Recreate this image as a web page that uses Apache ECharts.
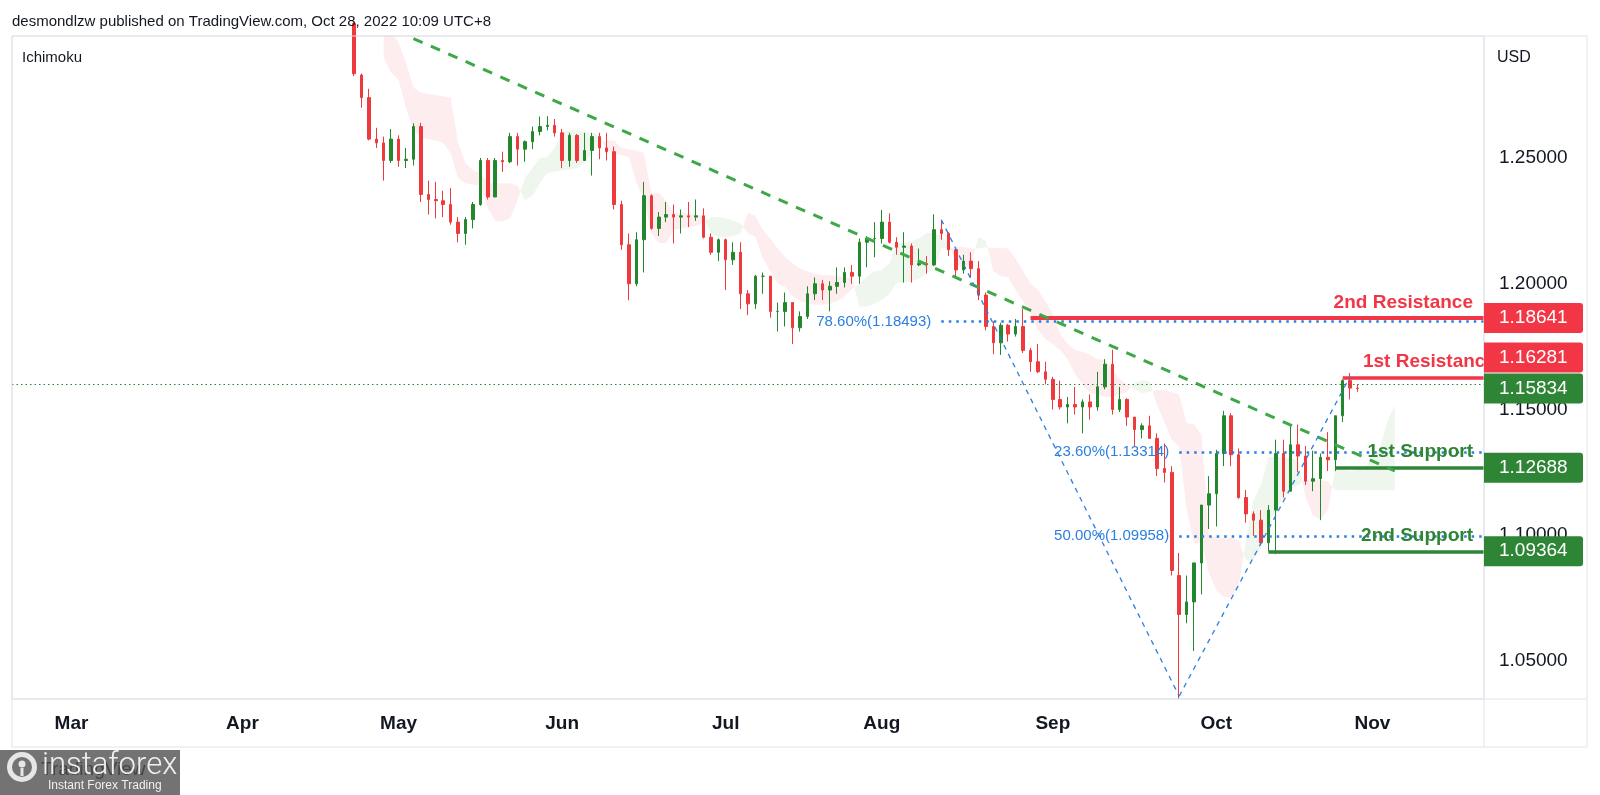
<!DOCTYPE html>
<html><head><meta charset="utf-8">
<script src="https://cdn.jsdelivr.net/npm/echarts@6/dist/echarts.min.js"></script>
<style>html,body{margin:0;padding:0;background:#fff}#chart{width:1600px;height:795px}</style>
</head><body><div id="chart"></div>
<script>
const FONT = '"Liberation Sans", Arial, Helvetica, sans-serif';
const axisStart = '2022-02-17';
const axisEnd = '2022-11-22';
const monthNames = ['Jan','Feb','Mar','Apr','May','Jun','Jul','Aug','Sep','Oct','Nov','Dec'];
const yTicks = [1.05, 1.10, 1.15, 1.20, 1.25];
const yMin = 1.0349, yMax = 1.2985;

// daily candles: [date, open, high, low, close]
const ohlcRows = [
['2022-04-21',1.3055,1.3090,1.3000,1.3035],
['2022-04-22',1.3035,1.3040,1.2825,1.2835],
['2022-04-25',1.2830,1.2835,1.2700,1.2740],
['2022-04-26',1.2740,1.2775,1.2570,1.2575],
['2022-04-27',1.2575,1.2620,1.2540,1.2560],
['2022-04-28',1.2560,1.2585,1.2410,1.2490],
['2022-04-29',1.2490,1.2615,1.2480,1.2575],
['2022-05-02',1.2575,1.2590,1.2465,1.2490],
['2022-05-03',1.2490,1.2540,1.2460,1.2495],
['2022-05-04',1.2495,1.2638,1.2470,1.2625],
['2022-05-05',1.2625,1.2640,1.2325,1.2355],
['2022-05-06',1.2355,1.2410,1.2275,1.2335],
['2022-05-09',1.2335,1.2405,1.2260,1.2330],
['2022-05-10',1.2330,1.2370,1.2265,1.2315],
['2022-05-11',1.2315,1.2380,1.2235,1.2245],
['2022-05-12',1.2245,1.2265,1.2165,1.2200],
['2022-05-13',1.2200,1.2265,1.2155,1.2255],
['2022-05-16',1.2255,1.2325,1.2220,1.2315],
['2022-05-17',1.2315,1.2500,1.2310,1.2490],
['2022-05-18',1.2490,1.2500,1.2335,1.2345],
['2022-05-19',1.2345,1.2500,1.2345,1.2490],
['2022-05-20',1.2490,1.2525,1.2445,1.2485],
['2022-05-23',1.2485,1.2600,1.2480,1.2585],
['2022-05-24',1.2585,1.2600,1.2470,1.2535],
['2022-05-25',1.2535,1.2570,1.2485,1.2565],
['2022-05-26',1.2565,1.2625,1.2535,1.2605],
['2022-05-27',1.2605,1.2665,1.2590,1.2625],
['2022-05-30',1.2625,1.2666,1.2610,1.2630],
['2022-05-31',1.2630,1.2655,1.2585,1.2600],
['2022-06-01',1.2600,1.2615,1.2460,1.2490],
['2022-06-02',1.2490,1.2600,1.2465,1.2590],
['2022-06-03',1.2590,1.2595,1.2480,1.2490],
['2022-06-06',1.2490,1.2600,1.2490,1.2530],
['2022-06-07',1.2530,1.2600,1.2430,1.2585],
['2022-06-08',1.2585,1.2600,1.2495,1.2540],
['2022-06-09',1.2540,1.2600,1.2490,1.2525],
['2022-06-10',1.2525,1.2545,1.2295,1.2315],
['2022-06-13',1.2315,1.2330,1.2135,1.2155],
['2022-06-14',1.2155,1.2200,1.1934,1.2000],
['2022-06-15',1.2000,1.2205,1.1990,1.2175],
['2022-06-16',1.2175,1.2405,1.2045,1.2350],
['2022-06-17',1.2350,1.2355,1.2215,1.2220],
['2022-06-20',1.2220,1.2285,1.2190,1.2265],
['2022-06-21',1.2265,1.2325,1.2245,1.2275],
['2022-06-22',1.2275,1.2315,1.2160,1.2265],
['2022-06-23',1.2265,1.2295,1.2200,1.2270],
['2022-06-24',1.2270,1.2325,1.2225,1.2265],
['2022-06-27',1.2265,1.2335,1.2250,1.2270],
['2022-06-28',1.2270,1.2300,1.2180,1.2185],
['2022-06-29',1.2185,1.2200,1.2115,1.2125],
['2022-06-30',1.2125,1.2180,1.2090,1.2175],
['2022-07-01',1.2175,1.2180,1.1975,1.2095],
['2022-07-04',1.2095,1.2165,1.2075,1.2125],
['2022-07-05',1.2125,1.2165,1.1900,1.1960],
['2022-07-06',1.1960,1.1975,1.1875,1.1920],
['2022-07-07',1.1920,1.2035,1.1900,1.2030],
['2022-07-08',1.2030,1.2045,1.1960,1.2030],
['2022-07-11',1.2030,1.2030,1.1865,1.1890],
['2022-07-12',1.1890,1.1925,1.1810,1.1890],
['2022-07-13',1.1890,1.1965,1.1830,1.1925],
['2022-07-14',1.1925,1.1925,1.1760,1.1825],
['2022-07-15',1.1825,1.1890,1.1810,1.1870],
['2022-07-18',1.1870,1.1990,1.1860,1.1960],
['2022-07-19',1.1960,1.2025,1.1935,1.2000],
['2022-07-20',1.2000,1.2015,1.1935,1.1975],
['2022-07-21',1.1975,1.2010,1.1890,1.1990],
['2022-07-22',1.1990,1.2065,1.1960,1.2005],
['2022-07-25',1.2005,1.2065,1.1985,1.2045],
['2022-07-26',1.2045,1.2075,1.2000,1.2030],
['2022-07-27',1.2030,1.2180,1.2000,1.2165],
['2022-07-28',1.2165,1.2190,1.2065,1.2180],
['2022-07-29',1.2180,1.2245,1.2105,1.2180],
['2022-08-01',1.2180,1.2293,1.2160,1.2245],
['2022-08-02',1.2245,1.2280,1.2160,1.2165],
['2022-08-03',1.2165,1.2185,1.2115,1.2145],
['2022-08-04',1.2145,1.2205,1.2005,1.2150],
['2022-08-05',1.2150,1.2160,1.2005,1.2075],
['2022-08-08',1.2075,1.2140,1.2070,1.2080],
['2022-08-09',1.2080,1.2110,1.2040,1.2075],
['2022-08-10',1.2075,1.2276,1.2070,1.2215],
['2022-08-11',1.2215,1.2250,1.2175,1.2200],
['2022-08-12',1.2200,1.2205,1.2110,1.2135],
['2022-08-15',1.2135,1.2140,1.2020,1.2055],
['2022-08-16',1.2055,1.2115,1.2040,1.2090],
['2022-08-17',1.2090,1.2125,1.2025,1.2060],
['2022-08-18',1.2060,1.2090,1.1935,1.1955],
['2022-08-19',1.1955,1.1965,1.1815,1.1830],
['2022-08-22',1.1830,1.1850,1.1720,1.1765],
['2022-08-23',1.1765,1.1845,1.1717,1.1835],
['2022-08-24',1.1835,1.1840,1.1770,1.1800],
['2022-08-25',1.1800,1.1860,1.1790,1.1830],
['2022-08-26',1.1830,1.1900,1.1725,1.1735],
['2022-08-29',1.1735,1.1745,1.1650,1.1690],
['2022-08-30',1.1690,1.1760,1.1645,1.1650],
['2022-08-31',1.1650,1.1690,1.1600,1.1620],
['2022-09-01',1.1620,1.1630,1.1500,1.1540],
['2022-09-02',1.1540,1.1615,1.1500,1.1510],
['2022-09-05',1.1510,1.1550,1.1445,1.1520],
['2022-09-06',1.1520,1.1590,1.1480,1.1510],
['2022-09-07',1.1510,1.1540,1.1405,1.1530],
['2022-09-08',1.1530,1.1560,1.1460,1.1510],
['2022-09-09',1.1510,1.1650,1.1495,1.1590],
['2022-09-12',1.1590,1.1700,1.1580,1.1680],
['2022-09-13',1.1680,1.1738,1.1480,1.1500],
['2022-09-14',1.1500,1.1590,1.1490,1.1540],
['2022-09-15',1.1540,1.1545,1.1435,1.1470],
['2022-09-16',1.1470,1.1470,1.1350,1.1420],
['2022-09-19',1.1420,1.1445,1.1385,1.1435],
['2022-09-20',1.1435,1.1475,1.1385,1.1385],
['2022-09-21',1.1385,1.1405,1.1235,1.1265],
['2022-09-22',1.1265,1.1365,1.1210,1.1250],
['2022-09-23',1.1250,1.1275,1.0840,1.0860],
['2022-09-26',1.0840,1.0930,1.0350,1.0685],
['2022-09-27',1.0685,1.0840,1.0650,1.0735],
['2022-09-28',1.0735,1.0890,1.0540,1.0890],
['2022-09-29',1.0890,1.1120,1.0765,1.1120],
['2022-09-30',1.1120,1.1235,1.1025,1.1165],
['2022-10-03',1.1165,1.1340,1.1035,1.1325],
['2022-10-04',1.1325,1.1495,1.1275,1.1475],
['2022-10-05',1.1475,1.1485,1.1275,1.1320],
['2022-10-06',1.1320,1.1345,1.1145,1.1150],
['2022-10-07',1.1150,1.1180,1.1050,1.1085],
['2022-10-10',1.1085,1.1095,1.0998,1.1060],
['2022-10-11',1.1060,1.1100,1.0960,1.0970],
['2022-10-12',1.0970,1.1120,1.0936,1.1100],
['2022-10-13',1.1100,1.1380,1.0925,1.1325],
['2022-10-14',1.1325,1.1380,1.1150,1.1175],
['2022-10-17',1.1175,1.1440,1.1175,1.1360],
['2022-10-18',1.1360,1.1440,1.1250,1.1315],
['2022-10-19',1.1315,1.1355,1.1200,1.1215],
['2022-10-20',1.1215,1.1336,1.1175,1.1225],
['2022-10-21',1.1225,1.1325,1.1060,1.1310],
['2022-10-24',1.1310,1.1410,1.1255,1.1300],
['2022-10-25',1.1300,1.1475,1.1255,1.1475],
['2022-10-26',1.1475,1.1620,1.1450,1.1615],
['2022-10-27',1.1615,1.1645,1.1540,1.1585],
['2022-10-28',1.1585,1.1600,1.1570,1.15834]
];

// Ichimoku cloud (leading spans), one value per trading day starting at cloudStart
const cloudStart = '2022-04-28';
const spanA = [
1.2900,1.2840,1.2810,1.2700,1.2610,1.2580,1.2575,1.2570,1.2560,1.2520,
1.2420,1.2400,1.2395,1.2390,1.2300,1.2250,1.2246,1.2260,1.2330,1.2420,
1.2460,1.2500,1.2505,1.2540,1.2600,1.2611,1.2611,1.2605,1.2600,1.2590,
1.2530,1.2520,1.2510,1.2505,1.2400,1.2333,1.2200,1.2162,1.2162,1.2214,
1.2220,1.2225,1.2230,1.2240,1.2265,1.2265,1.2260,1.2250,1.2240,1.2200,
1.2186,1.2100,1.2050,1.2000,1.1987,1.1950,1.1930,1.1920,1.1916,1.1916,
1.1920,1.1930,1.1950,1.1980,1.2000,1.2030,1.2050,1.2055,1.2080,1.2162,
1.2162,1.2170,1.2180,1.2202,1.2202,1.2190,1.2160,1.2080,1.2060,1.2080,
1.2186,1.2170,1.2050,1.2030,1.2027,1.1975,1.1930,1.1880,1.1816,1.1780,
1.1760,1.1737,1.1700,1.1640,1.1600,1.1566,1.1560,1.1550,1.1550,1.1560,
1.1570,1.1605,1.1617,1.1610,1.1520,1.1450,1.1380,1.1351,1.1100,1.0969,
1.0969,1.0850,1.0780,1.0754,1.0754,1.0800,1.0980,1.1140,1.1200,1.1311,
1.1311,1.1310,1.1305,1.1300,1.1150,1.1080,1.1061,1.1100,1.1260,1.1260,
1.1255,1.1260,1.1270,1.1300,1.1350,1.1450,1.1518
];
const spanB = [
1.3040,1.3000,1.2960,1.2880,1.2780,1.2760,1.2755,1.2750,1.2745,1.2740,
1.2560,1.2480,1.2450,1.2440,1.2400,1.2400,1.2400,1.2400,1.2390,1.2333,
1.2350,1.2400,1.2440,1.2445,1.2450,1.2452,1.2460,1.2480,1.2520,1.2560,
1.2570,1.2570,1.2540,1.2535,1.2530,1.2520,1.2361,1.2361,1.2330,1.2281,
1.2281,1.2280,1.2275,1.2270,1.2200,1.2186,1.2186,1.2190,1.2200,1.2281,
1.2270,1.2214,1.2180,1.2140,1.2106,1.2080,1.2060,1.2050,1.2040,1.2035,
1.2035,1.2030,1.2027,1.2020,1.1910,1.1910,1.1920,1.1935,1.1960,1.2003,
1.2003,1.2010,1.2020,1.2043,1.2060,1.2140,1.2140,1.2146,1.2146,1.2140,
1.2140,1.2145,1.2142,1.2142,1.2140,1.2100,1.2050,1.2000,1.1975,1.1930,
1.1880,1.1800,1.1760,1.1737,1.1730,1.1717,1.1700,1.1697,1.1660,1.1620,
1.1600,1.1580,1.1566,1.1570,1.1578,1.1578,1.1570,1.1560,1.1446,1.1440,
1.1400,1.1000,1.0993,1.0990,1.0990,1.0980,1.0900,1.0902,1.0950,1.1050,
1.1100,1.1150,1.1180,1.1200,1.1220,1.1220,1.1220,1.1215,1.1180,1.1180,
1.1180,1.1180,1.1180,1.1180,1.1180,1.1180,1.1180
];

const lastPrice = 1.15834;
const levelNames  = ['2nd Resistance', '1st Resistance', '1st Support', '2nd Support'];
const levelPrices = [1.18641, 1.16281, 1.12688, 1.09364];
const levelStarts = ['2022-08-29', '2022-10-26', '2022-10-25', '2022-10-12'];
const fibNames  = ['78.60%', '23.60%', '50.00%'];
const fibPrices = [1.18493, 1.13314, 1.09958];
const fibStarts = ['2022-08-11', '2022-09-26', '2022-09-26'];
const trendDates  = ['2022-05-04', '2022-11-04'];
const trendPrices = [1.2975, 1.1256];
const fibPathDates  = ['2022-08-11', '2022-09-26', '2022-10-27'];
const fibPathPrices = [1.22547, 1.03602, 1.16314];

// ---------- build ----------
function weekdays(a, b) {
  const out = [];
  const d = new Date(a + 'T00:00:00Z');
  const end = new Date(b + 'T00:00:00Z');
  while (d <= end) {
    const w = d.getUTCDay();
    if (w !== 0 && w !== 6) out.push(d.toISOString().slice(0, 10));
    d.setUTCDate(d.getUTCDate() + 1);
  }
  return out;
}
const categories = weekdays(axisStart, axisEnd);
const dayIndex = {};
categories.forEach((c, i) => { dayIndex[c] = i; });
const candleData = ohlcRows.map(([d, o, h, l, c]) => [dayIndex[d], o, c, l, h]);
const cloudOffset = dayIndex[cloudStart];

const UP = '#23882d', DOWN = '#ef3a3d';
const RED = '#f23645', GREEN = '#2e8535', BLUE = '#2a7fe0';
const levelColors = [RED, RED, GREEN, GREEN];
const levelWidths = [4, 3.5, 3.5, 3.5];
const levelDist = [[11, 6], [-12, 6], [11, 6], [11, 6]];

const markData = [];
levelPrices.forEach((p, i) => {
  markData.push([
    { coord: [levelStarts[i], p], lineStyle: { color: levelColors[i], width: levelWidths[i], type: 'solid' },
      label: { show: true, position: 'insideEndTop', formatter: levelNames[i], color: levelColors[i],
               fontSize: 19, fontWeight: 'bold', fontFamily: FONT, distance: levelDist[i] } },
    { coord: [axisEnd, p] }
  ]);
});
fibPrices.forEach((p, i) => {
  markData.push([
    { coord: [fibStarts[i], p], lineStyle: { color: BLUE, width: 2.5, type: [2.5, 5] },
      label: { show: true, position: 'start', formatter: fibNames[i] + '(' + p.toFixed(5) + ')', color: BLUE,
               fontSize: 15, fontFamily: FONT, distance: 10 } },
    { coord: [axisEnd, p] }
  ]);
});
markData.push([
  { coord: [trendDates[0], trendPrices[0]], lineStyle: { color: '#3da846', width: 3, type: [10, 9] }, label: { show: false } },
  { coord: [trendDates[1], trendPrices[1]] }
]);
for (let i = 0; i < fibPathDates.length - 1; i++) {
  markData.push([
    { coord: [fibPathDates[i], fibPathPrices[i]], lineStyle: { color: BLUE, width: 1.3, type: [5, 5] }, label: { show: false } },
    { coord: [fibPathDates[i + 1], fibPathPrices[i + 1]] }
  ]);
}
markData.push({ yAxis: lastPrice, lineStyle: { color: '#2e8535', width: 1, type: [1.5, 3] }, label: { show: false } });

function cloudRender(params, api) {
  const pts = spanA.map((a, k) => ({
    top: api.coord([cloudOffset + k, a]),
    bot: api.coord([cloudOffset + k, spanB[k]]),
    d: a - spanB[k]
  }));
  const children = [];
  let cur = null;
  const flush = () => {
    if (cur && cur.a.length > 1) {
      children.push({ type: 'polygon', shape: { points: cur.a.concat(cur.b.slice().reverse()) },
        style: { fill: cur.pos ? 'rgba(67,160,71,0.09)' : 'rgba(242,54,69,0.09)' } });
    }
  };
  pts.forEach((p, k) => {
    const pos = p.d >= 0;
    if (!cur) { cur = { pos, a: [p.top], b: [p.bot] }; return; }
    if (pos === cur.pos) { cur.a.push(p.top); cur.b.push(p.bot); return; }
    const q = pts[k - 1];
    const t = q.d / (q.d - p.d);
    const m = [q.top[0] + t * (p.top[0] - q.top[0]), q.top[1] + t * (p.top[1] - q.top[1])];
    cur.a.push(m); cur.b.push(m); flush();
    cur = { pos, a: [m, p.top], b: [m, p.bot] };
  });
  flush();
  return { type: 'group', children };
}

const chart = echarts.init(document.getElementById('chart'));
const option = {
  animation: false,
  backgroundColor: '#ffffff',
  textStyle: { fontFamily: FONT },
  grid: { left: 12, right: 116, top: 36, bottom: 96, containLabel: false, outerBoundsMode: 'none',
          show: true, borderColor: '#e0e3eb', borderWidth: 1, backgroundColor: 'transparent' },
  xAxis: {
    type: 'category', data: categories, boundaryGap: false,
    axisLine: { show: false }, axisTick: { show: false }, splitLine: { show: false },
    axisLabel: {
      interval: (i, v) => i > 0 && v.slice(5, 7) !== categories[i - 1].slice(5, 7),
      formatter: v => monthNames[+v.slice(5, 7) - 1],
      color: '#131722', fontSize: 19, fontWeight: 'bold', fontFamily: FONT, margin: 15
    }
  },
  yAxis: {
    type: 'value', position: 'right', min: yMin, max: yMax, splitNumber: 5, scale: true,
    axisLine: { show: false }, axisTick: { show: false }, splitLine: { show: false },
    axisLabel: {
      showMinLabel: false, showMaxLabel: false, margin: 15, color: '#131722', fontSize: 19, fontFamily: FONT,
      formatter: v => yTicks.some(t => Math.abs(t - v) < 1e-7) ? v.toFixed(5) : ''
    }
  },
  series: [
    { type: 'custom', name: 'cloud', z: 1, clip: true, silent: true,
      data: [[cloudOffset, spanA[0]]], encode: { x: 0, y: 1 }, renderItem: cloudRender },
    { type: 'candlestick', name: 'GBPUSD', z: 3, clip: true, barWidth: 3,
      data: candleData, encode: { x: 0, y: [1, 2, 3, 4] },
      itemStyle: { color: UP, color0: DOWN, borderColor: UP, borderColor0: DOWN, borderWidth: 1 },
      markLine: { silent: true, symbol: ['none', 'none'], animation: false, data: markData }
    }
  ]
};
chart.setOption(option);

// price tags on the right axis, placed through the y scale, stacked to avoid overlap
const tagPrices = [levelPrices[0], levelPrices[1], lastPrice, levelPrices[2], levelPrices[3]];
const tagColors = [RED, RED, GREEN, GREEN, GREEN];
const TAG_H = 30;
const tagYs = tagPrices.map(p => chart.convertToPixel({ yAxisIndex: 0 }, p));
const lastY = tagYs[2];
tagYs.forEach((y, i) => {
  if (i === 2) return;
  if (Math.abs(y - lastY) < TAG_H + 1) tagYs[i] = y < lastY ? lastY - TAG_H - 1 : lastY + TAG_H + 1;
});
const axisX = 1484;
const graphics = [];
tagPrices.forEach((p, i) => {
  graphics.push({ type: 'rect', z: 100, shape: { x: axisX, y: tagYs[i] - TAG_H / 2, width: 99, height: TAG_H, r: [0, 3, 3, 0] },
    style: { fill: tagColors[i] } });
  graphics.push({ type: 'text', z: 101, x: axisX + 15, y: tagYs[i],
    style: { text: p.toFixed(5), fill: '#ffffff', font: '19px ' + FONT, textVerticalAlign: 'middle', verticalAlign: 'middle' } });
});
// frame
graphics.push({ type: 'rect', z: 50, shape: { x: 12, y: 36, width: 1575, height: 711 }, style: { fill: null, stroke: '#e0e3eb', lineWidth: 1 } });
graphics.push({ type: 'line', z: 50, shape: { x1: 1484, y1: 36, x2: 1484, y2: 747 }, style: { stroke: '#e0e3eb', lineWidth: 1 } });
graphics.push({ type: 'line', z: 50, shape: { x1: 12, y1: 699, x2: 1587, y2: 699 }, style: { stroke: '#e0e3eb', lineWidth: 1 } });
// texts
graphics.push({ type: 'text', z: 60, x: 12, y: 22,
  style: { text: 'desmondlzw published on TradingView.com, Oct 28, 2022 10:09 UTC+8', fill: '#131722', font: '15px ' + FONT, verticalAlign: 'middle', textVerticalAlign: 'middle' } });
graphics.push({ type: 'text', z: 60, x: 22, y: 58,
  style: { text: 'Ichimoku', fill: '#131722', font: '15px ' + FONT, verticalAlign: 'middle', textVerticalAlign: 'middle' } });
graphics.push({ type: 'text', z: 60, x: 1497, y: 58,
  style: { text: 'USD', fill: '#131722', font: '16px ' + FONT, verticalAlign: 'middle', textVerticalAlign: 'middle' } });
// logo
graphics.push({ type: 'rect', z: 70, shape: { x: 0, y: 750, width: 180, height: 45 }, style: { fill: 'rgba(100,100,100,0.9)' } });
graphics.push({ type: 'text', z: 71, x: 41, y: 770,
  style: { text: 'TradingView', fill: 'rgba(30,30,30,0.55)', font: '19px ' + FONT, verticalAlign: 'middle', textVerticalAlign: 'middle' } });
graphics.push({ type: 'ring', z: 72, shape: { cx: 22, cy: 767, r: 15, r0: 10 }, style: { fill: '#e6e6e6' } });
graphics.push({ type: 'circle', z: 72, shape: { cx: 22, cy: 764, r: 3.5 }, style: { fill: '#e6e6e6' } });
graphics.push({ type: 'rect', z: 72, shape: { x: 20.5, y: 768, width: 3, height: 8 }, style: { fill: '#e6e6e6' } });
graphics.push({ type: 'text', z: 72, x: 42, y: 766,
  style: { text: 'instaforex', fill: '#f0f0f0', font: '300 31px Roboto, ' + FONT, verticalAlign: 'middle', textVerticalAlign: 'middle' } });
graphics.push({ type: 'text', z: 72, x: 48, y: 786,
  style: { text: 'Instant Forex Trading', fill: '#f0f0f0', font: '12px ' + FONT, verticalAlign: 'middle', textVerticalAlign: 'middle' } });
chart.setOption({ graphic: graphics });
</script>
</body></html>
